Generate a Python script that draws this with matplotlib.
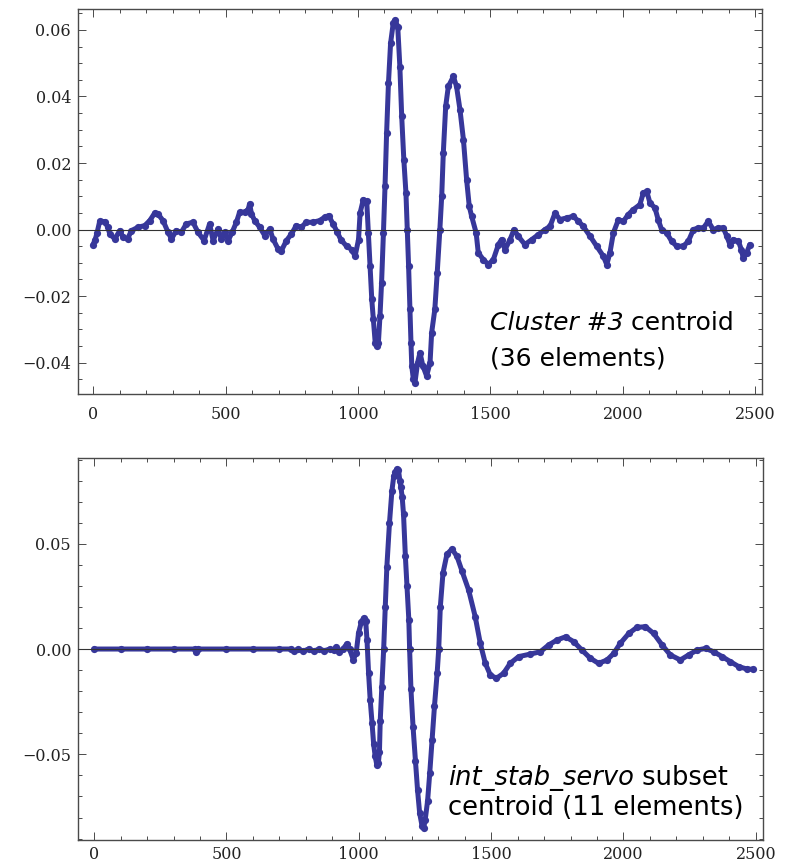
import matplotlib
matplotlib.use("Agg")
import matplotlib.pyplot as plt
from matplotlib.ticker import MultipleLocator, FuncFormatter

# --- Данные: значения (x - номер отсчёта) ---
top_x = [0, 8, 15, 25, 44, 55, 63, 82, 101, 113, 130, 145, 170, 195, 214, 233, 245, 264,
         283, 296, 314, 333, 352, 377, 396, 419, 440, 453, 472, 484, 497, 510, 525, 541,
         553, 572, 585, 591, 598, 610, 629, 648, 667, 679, 698, 711, 730, 749, 767, 786,
         805, 830, 855, 874, 889, 906, 922, 935, 957, 976, 989, 1002, 1008, 1020, 1033,
         1039, 1045, 1052, 1058, 1065, 1071, 1077, 1083, 1089, 1096, 1102, 1108, 1115,
         1123, 1133, 1140, 1150, 1158, 1165, 1173, 1181, 1186, 1191, 1196, 1200, 1203,
         1209, 1215, 1225, 1234, 1245, 1259, 1272, 1278, 1290, 1299, 1309, 1316, 1322,
         1331, 1341, 1360, 1372, 1385, 1398, 1410, 1420, 1429, 1446, 1454, 1473, 1492,
         1511, 1530, 1542, 1555, 1574, 1589, 1605, 1630, 1656, 1681, 1706, 1725, 1744,
         1762, 1788, 1813, 1832, 1850, 1876, 1901, 1926, 1939, 1951, 1964, 1983, 2002,
         2020, 2039, 2064, 2077, 2090, 2102, 2121, 2133, 2146, 2165, 2184, 2203, 2228,
         2247, 2266, 2285, 2304, 2322, 2341, 2360, 2379, 2392, 2404, 2417, 2436, 2447,
         2454, 2467, 2479]
top_y = [-0.0045, -0.003, -0.001, 0.0025, 0.0024, 0.0008, -0.0013, -0.0028, -0.0003,
         -0.0023, -0.0028, -0.0003, 0.0007, 0.0012, 0.0027, 0.005, 0.0047, 0.0027,
         -0.0008, -0.0028, -0.0003, -0.0008, 0.0017, 0.0022, -0.0008, -0.0033, 0.0017,
         -0.0033, 0.0002, -0.0028, -0.0008, -0.0033, -0.0008, 0.0022, 0.0052, 0.0052,
         0.006, 0.0077, 0.0047, 0.0027, 0.0007, -0.0018, 0.0002, -0.0028, -0.0058,
         -0.0063, -0.0033, -0.0013, 0.0012, 0.0007, 0.0022, 0.0022, 0.0027, 0.0037,
         0.0042, 0.0017, -0.0008, -0.003, -0.005, -0.006, -0.008, -0.003, 0.005, 0.009,
         0.0085, -0.001, -0.011, -0.021, -0.027, -0.034, -0.035, -0.034, -0.026, -0.016,
         -0.001, 0.013, 0.029, 0.044, 0.056, 0.062, 0.063, 0.061, 0.049, 0.034, 0.021,
         0.011, 0.0, -0.011, -0.024, -0.034, -0.041, -0.045, -0.046, -0.04, -0.037,
         -0.041, -0.044, -0.04, -0.031, -0.024, -0.013, 0.0, 0.01, 0.023, 0.037, 0.043,
         0.046, 0.043, 0.036, 0.027, 0.015, 0.007, 0.004, -0.001, -0.007, -0.009,
         -0.0105, -0.009, -0.0045, -0.003, -0.006, -0.003, 0.0, -0.002, -0.0045, -0.003,
         -0.0015, 0.0, 0.001, 0.005, 0.003, 0.0035, 0.004, 0.0025, 0.001, -0.002, -0.005,
         -0.008, -0.0105, -0.007, -0.001, 0.003, 0.0025, 0.0045, 0.006, 0.0075, 0.011,
         0.0115, 0.008, 0.0065, 0.003, 0.0, -0.001, -0.0035, -0.005, -0.005, -0.0035,
         0.0, 0.0005, 0.0005, 0.0025, 0.0, 0.0005, 0.0005, -0.002, -0.0045, -0.003,
         -0.0035, -0.006, -0.0085, -0.007, -0.0045]

bot_x = [0, 100, 200, 300, 380, 386, 392, 500, 600, 700, 745, 755, 770, 790, 810, 830,
         850, 870, 890, 905, 915, 925, 940, 955, 965, 979, 990, 999, 1010, 1018, 1026,
         1031, 1037, 1043, 1050, 1056, 1062, 1068, 1074, 1078, 1081, 1087, 1094, 1100,
         1106, 1116, 1125, 1132, 1138, 1144, 1150, 1155, 1159, 1164, 1169, 1176, 1182,
         1189, 1192, 1197, 1205, 1214, 1222, 1230, 1239, 1245, 1251, 1260, 1268, 1277,
         1286, 1296, 1302, 1308, 1318, 1333, 1352, 1371, 1390, 1415, 1440, 1459, 1478,
         1497, 1520, 1547, 1572, 1604, 1648, 1686, 1717, 1749, 1781, 1812, 1843, 1875,
         1906, 1938, 1963, 1988, 2020, 2051, 2083, 2114, 2146, 2177, 2215, 2246, 2278,
         2310, 2341, 2373, 2404, 2436, 2467, 2488]
bot_y = [0.0, 0.0, 0.0, 0.0, 0.0, -0.0012, 0.0, 0.0, 0.0, 0.0, 0.0, -0.001, 0.0, -0.001,
         0.0, -0.001, 0.0, -0.0008, 0.0, -0.0005, 0.001, -0.0015, 0.0, 0.0025, 0.0,
         -0.005, -0.002, 0.0076, 0.013, 0.0147, 0.0135, 0.0043, -0.0115, -0.024, -0.035,
         -0.045, -0.051, -0.055, -0.054, -0.049, -0.034, -0.018, 0.0, 0.02, 0.039, 0.06,
         0.075, 0.082, 0.084, 0.0855, 0.085, 0.08, 0.077, 0.072, 0.064, 0.044, 0.03,
         0.014, 0.0, -0.019, -0.037, -0.053, -0.067, -0.078, -0.084, -0.085, -0.081,
         -0.072, -0.059, -0.043, -0.027, -0.0115, 0.0, 0.02, 0.036, 0.045, 0.0475, 0.044,
         0.037, 0.028, 0.0153, 0.0027, -0.0068, -0.0123, -0.0139, -0.0115, -0.0068,
         -0.0036, -0.0024, -0.0013, 0.0019, 0.0043, 0.0058, 0.0035, -0.0005, -0.0044,
         -0.0068, -0.0052, -0.0021, 0.0027, 0.0074, 0.0103, 0.0106, 0.0074, 0.0019,
         -0.0028, -0.0052, -0.0028, -0.0005, 0.0003, -0.0013, -0.0036, -0.006, -0.0084,
         -0.0095, -0.0096]

dot_color = "#37379a"
frame_color = "#4a4a4a"

fig = plt.figure(figsize=(7.94, 8.67), dpi=100)
ax1 = fig.add_axes([0.0982, 0.5456, 0.8615, 0.4441])
ax2 = fig.add_axes([0.0982, 0.0311, 0.8627, 0.4406])


def fmt_y(v, pos):
    s = "%.2f" % abs(v)
    if v < -1e-9:
        return "\u2212" + s
    return s


def style_axes(ax, ymajor, yminor, xpad):
    ax.xaxis.set_major_locator(MultipleLocator(500))
    ax.xaxis.set_minor_locator(MultipleLocator(100))
    ax.yaxis.set_major_locator(MultipleLocator(ymajor))
    ax.yaxis.set_minor_locator(MultipleLocator(yminor))
    ax.yaxis.set_major_formatter(FuncFormatter(fmt_y))
    ax.tick_params(which="both", direction="in", top=True, right=True,
                   color=frame_color, width=0.7)
    ax.tick_params(which="major", length=6)
    ax.tick_params(which="minor", length=3)
    ax.tick_params(axis="y", pad=5)
    ax.tick_params(axis="x", pad=xpad)
    for lab in ax.get_xticklabels() + ax.get_yticklabels():
        lab.set_fontfamily("DejaVu Serif")
        lab.set_fontsize(11.5)
        lab.set_color("#222222")
    for sp in ax.spines.values():
        sp.set_color(frame_color)
        sp.set_linewidth(1.0)
    ax.axhline(0, color="#333333", lw=0.8, zorder=4)


# --- Верхний график: центроид кластера #3 ---
ax1.plot(top_x, top_y, "-", color=dot_color, lw=3.6,
         solid_joinstyle="round", solid_capstyle="round", zorder=3)
ax1.plot(top_x, top_y, "o", color=dot_color, ms=5.2, mew=0, zorder=3)
ax1.set_xlim(-57, 2525)
ax1.set_ylim(-0.0494, 0.0663)
style_axes(ax1, 0.02, 0.005, 9)

t1 = ax1.text(0.602, 0.166, "Cluster #3", style="italic", fontsize=18,
              family="DejaVu Sans", transform=ax1.transAxes, va="baseline")
ax1.annotate(" centroid", xy=(1, 0), xycoords=t1, va="bottom", fontsize=18,
             family="DejaVu Sans")
ax1.text(0.602, 0.073, "(36 elements)", fontsize=18, family="DejaVu Sans",
         transform=ax1.transAxes, va="baseline")

# --- Нижний график: центроид подмножества int_stab_servo ---
ax2.plot(bot_x, bot_y, "-", color=dot_color, lw=3.6,
         solid_joinstyle="round", solid_capstyle="round", zorder=3)
ax2.plot(bot_x, bot_y, "o", color=dot_color, ms=5.2, mew=0, zorder=3)
ax2.set_xlim(-61, 2527)
ax2.set_ylim(-0.0907, 0.0907)
style_axes(ax2, 0.05, 0.01, 4)

t2 = ax2.text(0.540, 0.144, "int_stab_servo", style="italic", fontsize=18.5,
              family="DejaVu Sans", transform=ax2.transAxes, va="baseline")
ax2.annotate(" subset", xy=(1, 0), xycoords=t2, va="bottom", fontsize=18.5,
             family="DejaVu Sans")
ax2.text(0.540, 0.065, "centroid (11 elements)", fontsize=18.5, family="DejaVu Sans",
         transform=ax2.transAxes, va="baseline")

fig.savefig("out.png", dpi=100)
